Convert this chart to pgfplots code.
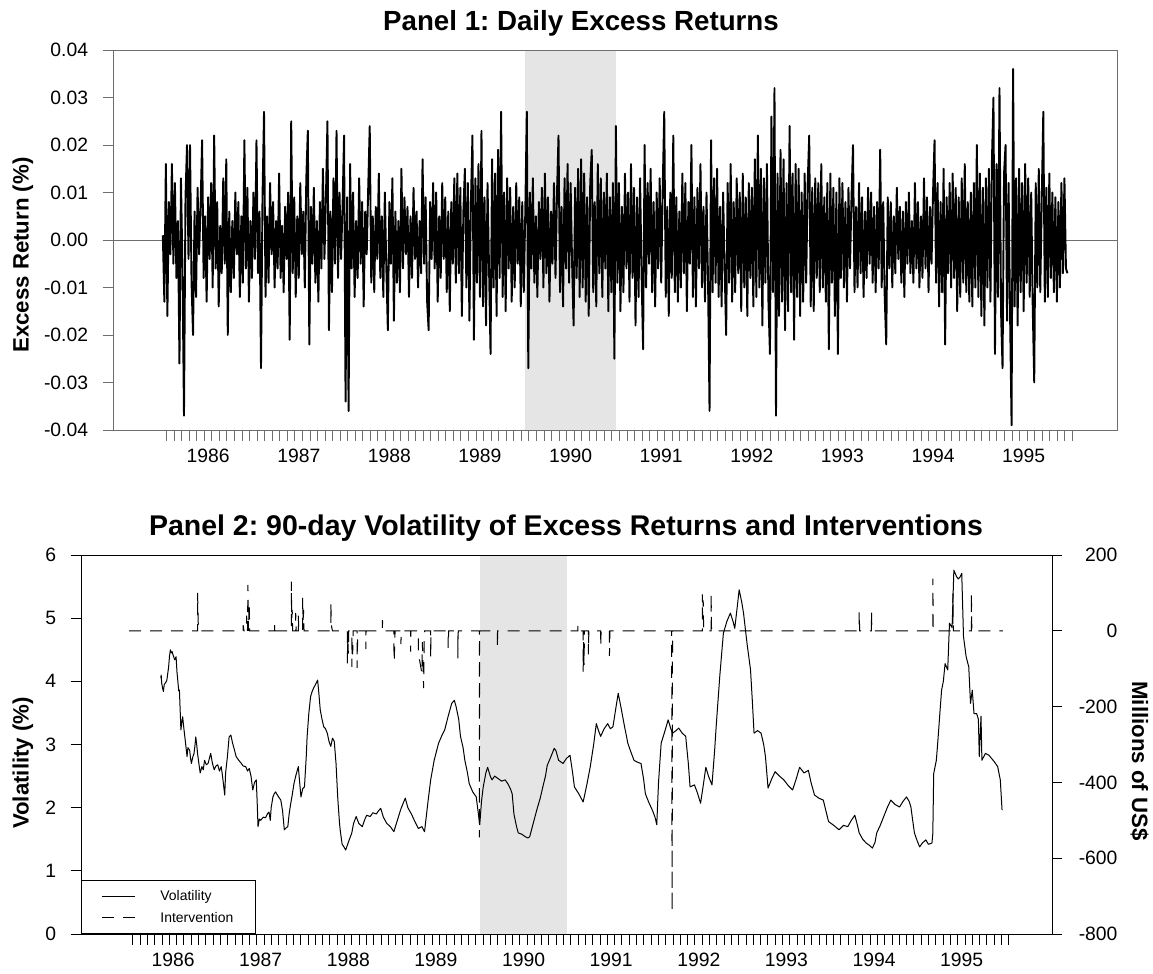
\documentclass[border=0pt]{standalone}
\usepackage{fontspec}
\setmainfont{Liberation Sans}
\usepackage{pgfplots}
\usepackage{pgfplotstable}
\pgfplotsset{compat=1.18}
\definecolor{framegray}{HTML}{6E6E6E}
\definecolor{tickgray}{HTML}{707070}
\definecolor{bandgray}{HTML}{E5E5E5}
\frenchspacing

% daily excess returns, 60 observations per year from 1986.0
\pgfplotstableread[row sep=\\]{
r\\
0.001\\ -0.013\\ 0.016\\ -0.016\\ 0.008\\ -0.003\\ 0.016\\ -0.005\\ 0.012\\ -0.008\\
0.004\\ -0.026\\ 0.013\\ -0.006\\ -0.037\\ 0.009\\ 0.020\\ -0.004\\ 0.020\\ -0.009\\
-0.020\\ 0.006\\ -0.012\\ 0.011\\ -0.003\\ 0.007\\ 0.021\\ -0.008\\ 0.005\\ -0.013\\
0.009\\ -0.004\\ 0.012\\ -0.010\\ 0.022\\ -0.006\\ 0.008\\ -0.014\\ 0.003\\ -0.007\\
0.013\\ -0.005\\ 0.017\\ -0.020\\ 0.006\\ -0.011\\ 0.004\\ -0.008\\ 0.010\\ -0.003\\
0.008\\ -0.012\\ 0.005\\ -0.009\\ 0.021\\ -0.006\\ 0.011\\ -0.013\\ 0.004\\ -0.008\\
0.010\\ -0.004\\ 0.021\\ -0.007\\ 0.006\\ -0.027\\ 0.009\\ 0.027\\ -0.012\\ 0.005\\
-0.009\\ 0.012\\ -0.003\\ 0.008\\ -0.010\\ 0.004\\ -0.006\\ 0.014\\ -0.008\\ 0.003\\
-0.011\\ 0.007\\ -0.004\\ 0.010\\ -0.021\\ 0.025\\ -0.007\\ 0.009\\ -0.012\\ 0.005\\
-0.008\\ 0.012\\ -0.003\\ 0.006\\ -0.010\\ 0.013\\ 0.023\\ -0.022\\ 0.007\\ -0.005\\
0.011\\ -0.009\\ 0.004\\ -0.013\\ 0.008\\ -0.006\\ 0.015\\ -0.004\\ 0.009\\ 0.025\\
-0.019\\ 0.006\\ -0.011\\ 0.013\\ -0.005\\ 0.023\\ -0.008\\ 0.010\\ -0.004\\ 0.007\\
0.022\\ -0.034\\ 0.009\\ -0.036\\ 0.016\\ -0.006\\ 0.010\\ -0.012\\ 0.004\\ -0.008\\
0.013\\ -0.005\\ 0.008\\ -0.014\\ 0.006\\ -0.003\\ 0.011\\ 0.024\\ -0.009\\ 0.005\\
-0.011\\ 0.007\\ -0.004\\ 0.014\\ -0.008\\ 0.005\\ -0.012\\ 0.010\\ -0.006\\ -0.019\\
0.008\\ -0.005\\ 0.013\\ -0.017\\ 0.006\\ -0.009\\ 0.004\\ -0.011\\ 0.015\\ -0.006\\
0.009\\ -0.003\\ 0.007\\ -0.012\\ 0.005\\ -0.008\\ 0.011\\ -0.004\\ 0.006\\ -0.010\\
0.004\\ -0.007\\ 0.017\\ -0.005\\ 0.009\\ -0.013\\ -0.019\\ 0.008\\ -0.004\\ 0.012\\
-0.006\\ 0.010\\ -0.013\\ 0.005\\ -0.008\\ 0.012\\ -0.004\\ 0.009\\ -0.011\\ 0.006\\
-0.015\\ 0.008\\ -0.005\\ 0.013\\ -0.009\\ 0.014\\ -0.007\\ 0.011\\ -0.016\\ 0.006\\
0.015\\ -0.010\\ 0.012\\ -0.017\\ 0.008\\ 0.022\\ -0.021\\ 0.013\\ -0.009\\ 0.016\\
-0.012\\ 0.023\\ -0.014\\ 0.009\\ -0.018\\ 0.012\\ -0.006\\ -0.024\\ 0.017\\ -0.010\\
0.014\\ -0.016\\ 0.019\\ -0.008\\ 0.027\\ -0.012\\ 0.010\\ -0.015\\ 0.013\\ -0.006\\
0.011\\ -0.013\\ 0.007\\ -0.010\\ 0.012\\ -0.005\\ 0.009\\ -0.014\\ 0.008\\ -0.011\\
0.006\\ 0.027\\ -0.027\\ 0.010\\ -0.006\\ 0.013\\ -0.009\\ 0.005\\ -0.012\\ 0.008\\
-0.004\\ 0.011\\ -0.010\\ 0.014\\ -0.007\\ 0.009\\ -0.013\\ 0.006\\ -0.005\\ 0.012\\
-0.008\\ 0.010\\ 0.022\\ -0.011\\ 0.007\\ -0.014\\ 0.013\\ -0.006\\ 0.016\\ -0.009\\
0.012\\ -0.005\\ -0.018\\ 0.011\\ -0.008\\ 0.015\\ -0.012\\ 0.017\\ -0.010\\ 0.014\\
-0.013\\ 0.009\\ -0.016\\ 0.012\\ 0.019\\ -0.011\\ 0.008\\ -0.014\\ 0.016\\ -0.007\\
0.013\\ -0.012\\ 0.010\\ -0.006\\ 0.014\\ -0.015\\ 0.009\\ -0.011\\ 0.012\\ -0.025\\
0.024\\ -0.009\\ 0.012\\ -0.015\\ 0.007\\ -0.011\\ 0.014\\ -0.006\\ 0.010\\ -0.013\\
0.016\\ -0.008\\ 0.011\\ -0.018\\ 0.009\\ -0.012\\ 0.013\\ -0.007\\ -0.023\\ 0.020\\
-0.010\\ 0.012\\ -0.005\\ 0.015\\ -0.011\\ 0.008\\ -0.014\\ 0.010\\ -0.006\\ 0.013\\
-0.009\\ 0.011\\ 0.027\\ -0.012\\ 0.007\\ -0.016\\ 0.010\\ -0.008\\ 0.022\\ -0.011\\
0.009\\ -0.013\\ 0.006\\ -0.010\\ 0.014\\ -0.007\\ 0.012\\ -0.015\\ 0.008\\ -0.005\\
0.020\\ -0.012\\ 0.009\\ -0.014\\ 0.011\\ -0.006\\ 0.016\\ -0.010\\ 0.007\\ -0.013\\
0.010\\ -0.008\\ -0.036\\ 0.021\\ -0.011\\ 0.013\\ -0.009\\ 0.015\\ -0.012\\ 0.007\\
-0.014\\ 0.010\\ -0.006\\ -0.020\\ 0.012\\ -0.009\\ 0.016\\ -0.013\\ 0.008\\ -0.011\\
0.013\\ -0.007\\ 0.010\\ -0.015\\ 0.014\\ -0.010\\ 0.009\\ -0.016\\ 0.012\\ -0.008\\
0.011\\ -0.014\\ 0.017\\ -0.012\\ 0.022\\ -0.010\\ 0.015\\ -0.018\\ 0.013\\ -0.009\\
0.016\\ -0.013\\ -0.024\\ 0.026\\ -0.011\\ 0.032\\ -0.037\\ 0.014\\ -0.016\\ 0.019\\
-0.013\\ 0.017\\ -0.019\\ 0.012\\ -0.015\\ 0.024\\ -0.011\\ 0.014\\ -0.021\\ 0.016\\
-0.012\\ 0.015\\ -0.016\\ 0.010\\ -0.013\\ 0.014\\ -0.009\\ 0.012\\ 0.022\\ -0.014\\
0.011\\ -0.015\\ 0.013\\ -0.008\\ 0.012\\ -0.011\\ 0.016\\ -0.010\\ 0.009\\ -0.013\\
0.012\\ -0.023\\ 0.014\\ -0.009\\ 0.011\\ -0.016\\ 0.010\\ -0.024\\ 0.013\\ -0.008\\
0.012\\ -0.010\\ 0.008\\ -0.013\\ 0.011\\ -0.006\\ 0.009\\ 0.020\\ -0.011\\ 0.007\\
-0.010\\ 0.012\\ -0.007\\ 0.009\\ -0.012\\ 0.006\\ -0.008\\ 0.011\\ -0.005\\ 0.010\\
-0.009\\ 0.007\\ -0.011\\ 0.008\\ -0.006\\ 0.019\\ -0.010\\ 0.008\\ -0.012\\ -0.022\\
0.009\\ -0.006\\ 0.008\\ -0.010\\ 0.005\\ -0.007\\ 0.011\\ -0.004\\ 0.007\\ -0.009\\
0.006\\ -0.012\\ 0.008\\ -0.005\\ 0.010\\ -0.007\\ 0.004\\ -0.009\\ 0.012\\ -0.006\\
0.008\\ -0.010\\ 0.005\\ -0.008\\ 0.013\\ -0.006\\ 0.009\\ -0.011\\ 0.007\\ -0.005\\
0.010\\ 0.021\\ -0.009\\ 0.012\\ -0.014\\ 0.008\\ -0.011\\ 0.015\\ -0.022\\ 0.009\\
-0.007\\ 0.012\\ -0.010\\ 0.014\\ -0.008\\ 0.011\\ -0.015\\ 0.009\\ -0.012\\ 0.013\\
-0.009\\ 0.016\\ -0.011\\ 0.008\\ -0.013\\ 0.010\\ -0.014\\ 0.012\\ -0.010\\ 0.020\\
-0.012\\ 0.014\\ -0.016\\ 0.011\\ -0.018\\ 0.013\\ -0.010\\ 0.015\\ -0.013\\ 0.017\\
0.030\\ -0.024\\ 0.016\\ -0.012\\ 0.032\\ -0.015\\ -0.027\\ 0.014\\ 0.020\\ -0.017\\
0.012\\ -0.016\\ -0.039\\ 0.036\\ -0.014\\ 0.013\\ -0.018\\ 0.015\\ -0.011\\ 0.012\\
-0.015\\ 0.016\\ -0.009\\ 0.013\\ -0.012\\ 0.010\\ -0.014\\ -0.030\\ 0.012\\ -0.010\\
0.015\\ -0.011\\ 0.009\\ 0.027\\ -0.013\\ 0.011\\ -0.012\\ 0.014\\ -0.008\\ 0.010\\
-0.011\\ 0.009\\ -0.013\\ 0.008\\ -0.010\\ 0.012\\ -0.007\\ 0.013\\ -0.006\\ -0.007\\
}\returns

% 90-day volatility (%)
\pgfplotstableread[row sep=\\]{
t v\\
1986.36 4.05\\ 1986.365 4.10\\ 1986.37 3.98\\ 1986.38 3.90\\ 1986.39 3.84\\ 1986.40 3.95\\
1986.42 3.99\\ 1986.43 4.02\\ 1986.45 4.23\\ 1986.46 4.40\\ 1986.47 4.50\\ 1986.48 4.45\\
1986.49 4.47\\ 1986.50 4.42\\ 1986.51 4.38\\ 1986.52 4.34\\ 1986.535 4.39\\ 1986.545 4.15\\
1986.554 4.02\\ 1986.565 3.85\\ 1986.573 3.86\\ 1986.58 3.60\\ 1986.59 3.23\\ 1986.60 3.35\\
1986.61 3.44\\ 1986.62 3.30\\ 1986.63 3.18\\ 1986.645 3.00\\ 1986.66 2.81\\ 1986.67 2.95\\
1986.69 2.91\\ 1986.70 2.78\\ 1986.71 2.70\\ 1986.725 2.80\\ 1986.74 2.86\\ 1986.75 2.98\\
1986.76 3.12\\ 1986.77 3.00\\ 1986.78 2.86\\ 1986.795 2.70\\ 1986.81 2.55\\ 1986.83 2.65\\
1986.845 2.60\\ 1986.86 2.75\\ 1986.88 2.68\\ 1986.90 2.70\\ 1986.915 2.78\\ 1986.93 2.86\\
1986.95 2.70\\ 1986.97 2.60\\ 1986.99 2.66\\ 1987.01 2.68\\ 1987.03 2.58\\ 1987.05 2.65\\
1987.06 2.55\\ 1987.07 2.44\\ 1987.09 2.20\\ 1987.10 2.55\\ 1987.12 2.80\\ 1987.14 3.12\\
1987.16 3.15\\ 1987.18 3.02\\ 1987.20 2.92\\ 1987.22 2.81\\ 1987.25 2.75\\ 1987.28 2.70\\
1987.30 2.66\\ 1987.33 2.65\\ 1987.35 2.58\\ 1987.37 2.62\\ 1987.39 2.50\\ 1987.41 2.28\\
1987.43 2.40\\ 1987.45 2.44\\ 1987.46 2.10\\ 1987.47 1.70\\ 1987.485 1.82\\ 1987.50 1.80\\
1987.53 1.85\\ 1987.555 1.84\\ 1987.58 1.91\\ 1987.595 1.93\\ 1987.61 1.80\\ 1987.62 2.00\\
1987.64 2.17\\ 1987.655 2.22\\ 1987.67 2.25\\ 1987.70 2.18\\ 1987.73 2.12\\ 1987.75 1.95\\
1987.77 1.65\\ 1987.79 1.68\\ 1987.81 1.70\\ 1987.825 1.90\\ 1987.84 2.04\\ 1987.86 2.20\\
1987.88 2.38\\ 1987.90 2.50\\ 1987.93 2.65\\ 1987.945 2.40\\ 1987.96 2.17\\ 1987.98 2.30\\
1988.00 2.33\\ 1988.02 2.80\\ 1988.03 3.12\\ 1988.05 3.50\\ 1988.07 3.76\\ 1988.09 3.85\\
1988.11 3.91\\ 1988.13 3.96\\ 1988.15 4.02\\ 1988.165 3.80\\ 1988.18 3.55\\ 1988.20 3.40\\
1988.22 3.28\\ 1988.24 3.25\\ 1988.26 3.18\\ 1988.28 3.05\\ 1988.30 2.97\\ 1988.32 3.10\\
1988.34 3.05\\ 1988.36 2.70\\ 1988.38 2.15\\ 1988.40 1.75\\ 1988.41 1.62\\ 1988.43 1.42\\
1988.45 1.38\\ 1988.47 1.33\\ 1988.50 1.45\\ 1988.54 1.60\\ 1988.56 1.75\\ 1988.59 1.86\\
1988.62 1.75\\ 1988.66 1.70\\ 1988.69 1.82\\ 1988.71 1.88\\ 1988.75 1.86\\ 1988.78 1.92\\
1988.82 1.90\\ 1988.845 1.95\\ 1988.87 1.99\\ 1988.90 1.85\\ 1988.94 1.75\\ 1988.98 1.70\\
1989.02 1.62\\ 1989.06 1.80\\ 1989.10 1.98\\ 1989.15 2.15\\ 1989.18 2.00\\ 1989.22 1.90\\
1989.26 1.78\\ 1989.30 1.67\\ 1989.34 1.70\\ 1989.37 1.62\\ 1989.41 2.10\\ 1989.44 2.44\\
1989.48 2.75\\ 1989.53 3.02\\ 1989.57 3.15\\ 1989.60 3.23\\ 1989.64 3.45\\ 1989.68 3.65\\
1989.71 3.70\\ 1989.73 3.60\\ 1989.76 3.40\\ 1989.78 3.13\\ 1989.81 2.95\\ 1989.83 2.75\\
1989.86 2.55\\ 1989.88 2.38\\ 1989.92 2.25\\ 1989.96 2.17\\ 1989.98 1.95\\ 1990.00 1.73\\
1990.02 2.10\\ 1990.04 2.33\\ 1990.07 2.55\\ 1990.09 2.64\\ 1990.12 2.50\\ 1990.14 2.44\\
1990.17 2.50\\ 1990.21 2.46\\ 1990.25 2.42\\ 1990.29 2.44\\ 1990.32 2.38\\ 1990.35 2.30\\
1990.37 2.22\\ 1990.39 1.90\\ 1990.42 1.70\\ 1990.44 1.60\\ 1990.48 1.58\\ 1990.52 1.54\\
1990.55 1.52\\ 1990.57 1.54\\ 1990.61 1.75\\ 1990.65 1.96\\ 1990.69 2.15\\ 1990.72 2.33\\
1990.75 2.50\\ 1990.77 2.67\\ 1990.81 2.80\\ 1990.85 2.94\\ 1990.87 2.90\\ 1990.90 2.75\\
1990.93 2.72\\ 1990.95 2.70\\ 1990.99 2.78\\ 1991.03 2.83\\ 1991.06 2.55\\ 1991.08 2.33\\
1991.13 2.22\\ 1991.18 2.09\\ 1991.22 2.35\\ 1991.26 2.64\\ 1991.30 3.00\\ 1991.33 3.33\\
1991.36 3.20\\ 1991.38 3.13\\ 1991.42 3.25\\ 1991.46 3.33\\ 1991.49 3.25\\ 1991.52 3.28\\
1991.55 3.55\\ 1991.58 3.81\\ 1991.61 3.60\\ 1991.65 3.30\\ 1991.69 3.02\\ 1991.72 2.90\\
1991.76 2.75\\ 1991.80 2.72\\ 1991.84 2.70\\ 1991.87 2.45\\ 1991.89 2.22\\ 1991.93 2.08\\
1991.97 1.96\\ 1992.00 1.85\\ 1992.02 1.73\\ 1992.04 2.40\\ 1992.07 3.02\\ 1992.11 3.20\\
1992.15 3.39\\ 1992.18 3.25\\ 1992.20 3.18\\ 1992.24 3.22\\ 1992.27 3.26\\ 1992.31 3.18\\
1992.35 3.13\\ 1992.38 2.70\\ 1992.40 2.33\\ 1992.45 2.36\\ 1992.48 2.25\\ 1992.52 2.07\\
1992.55 2.35\\ 1992.58 2.64\\ 1992.61 2.50\\ 1992.65 2.36\\ 1992.68 2.90\\ 1992.70 3.33\\
1992.74 4.10\\ 1992.78 4.76\\ 1992.82 4.95\\ 1992.86 5.08\\ 1992.89 4.95\\ 1992.91 4.84\\
1992.94 5.20\\ 1992.96 5.45\\ 1992.99 5.25\\ 1993.01 5.08\\ 1993.05 4.60\\ 1993.09 4.18\\
1993.11 3.70\\ 1993.13 3.18\\ 1993.17 3.22\\ 1993.21 3.18\\ 1993.24 3.00\\ 1993.26 2.81\\
1993.29 2.31\\ 1993.33 2.45\\ 1993.37 2.57\\ 1993.42 2.50\\ 1993.47 2.44\\ 1993.52 2.35\\
1993.57 2.28\\ 1993.61 2.45\\ 1993.65 2.64\\ 1993.70 2.55\\ 1993.75 2.59\\ 1993.78 2.40\\
1993.82 2.20\\ 1993.87 2.15\\ 1993.92 2.12\\ 1993.95 1.95\\ 1993.98 1.78\\ 1994.04 1.72\\
1994.10 1.65\\ 1994.15 1.72\\ 1994.20 1.70\\ 1994.24 1.80\\ 1994.28 1.88\\ 1994.31 1.72\\
1994.33 1.60\\ 1994.37 1.50\\ 1994.41 1.44\\ 1994.45 1.40\\ 1994.48 1.36\\ 1994.51 1.45\\
1994.53 1.60\\ 1994.57 1.72\\ 1994.61 1.86\\ 1994.65 2.00\\ 1994.69 2.12\\ 1994.74 2.05\\
1994.79 2.01\\ 1994.83 2.10\\ 1994.87 2.17\\ 1994.90 2.10\\ 1994.92 2.01\\ 1994.94 1.80\\
1994.96 1.60\\ 1994.99 1.48\\ 1995.02 1.38\\ 1995.05 1.44\\ 1995.09 1.49\\ 1995.12 1.42\\
1995.16 1.44\\ 1995.17 1.59\\ 1995.18 2.54\\ 1995.21 2.75\\ 1995.23 3.10\\ 1995.25 3.49\\
1995.27 3.86\\ 1995.29 4.00\\ 1995.31 4.28\\ 1995.34 4.18\\ 1995.36 4.92\\ 1995.39 4.85\\
1995.41 5.76\\ 1995.44 5.66\\ 1995.46 5.62\\ 1995.48 5.65\\ 1995.50 5.71\\ 1995.52 4.71\\
1995.55 4.39\\ 1995.58 4.23\\ 1995.60 3.65\\ 1995.62 3.86\\ 1995.64 3.49\\ 1995.67 3.49\\
1995.69 3.40\\ 1995.70 2.81\\ 1995.72 3.45\\ 1995.73 2.75\\ 1995.77 2.86\\ 1995.81 2.83\\
1995.84 2.78\\ 1995.87 2.73\\ 1995.91 2.65\\ 1995.94 2.44\\ 1995.96 1.96\\
}\vol

% interventions (millions of US$)
\pgfplotstableread[row sep=\\]{
t m\\
1986.00 0\\ 1986.78 0\\ 1986.78 100\\ 1986.79 0\\ 1987.30 0\\ 1987.30 15\\ 1987.31 0\\
1987.34 0\\ 1987.34 40\\ 1987.35 0\\ 1987.355 121\\ 1987.36 0\\ 1987.37 73\\ 1987.375 0\\
1987.66 0\\ 1987.66 20\\ 1987.67 0\\ 1987.85 0\\ 1987.85 130\\ 1987.855 30\\ 1987.86 55\\
1987.865 0\\ 1987.90 0\\ 1987.90 47\\ 1987.905 0\\ 1987.93 0\\ 1987.93 40\\ 1987.935 0\\
1987.98 0\\ 1987.98 87\\ 1987.985 20\\ 1987.99 55\\ 1987.995 0\\ 1988.30 0\\ 1988.30 73\\
1988.31 10\\ 1988.32 0\\ 1988.49 0\\ 1988.49 -86\\ 1988.495 -20\\ 1988.50 -60\\ 1988.505 0\\
1988.54 0\\ 1988.54 -95\\ 1988.545 -30\\ 1988.55 -62\\ 1988.555 0\\ 1988.60 0\\ 1988.60 -98\\
1988.605 -40\\ 1988.61 0\\ 1988.70 0\\ 1988.70 -48\\ 1988.705 0\\ 1988.89 0\\ 1988.89 28\\
1988.895 0\\ 1989.02 0\\ 1989.02 -42\\ 1989.025 -81\\ 1989.03 -20\\ 1989.035 0\\ 1989.10 0\\
1989.10 -35\\ 1989.105 0\\ 1989.21 0\\ 1989.21 -55\\ 1989.215 0\\ 1989.30 0\\ 1989.30 -60\\
1989.34 -112\\ 1989.345 -30\\ 1989.36 -151\\ 1989.365 -40\\ 1989.37 0\\ 1989.44 0\\
1989.44 -70\\ 1989.445 0\\ 1989.64 0\\ 1989.64 -45\\ 1989.645 0\\ 1989.75 0\\ 1989.75 -73\\
1989.755 0\\ 1989.995 0\\ 1989.995 -545\\ 1990.0 0\\ 1990.20 0\\ 1990.20 -45\\ 1990.205 0\\
1991.12 0\\ 1991.12 15\\ 1991.125 0\\ 1991.18 0\\ 1991.18 -108\\ 1991.185 -30\\ 1991.19 -90\\
1991.195 0\\ 1991.24 0\\ 1991.24 -62\\ 1991.245 0\\ 1991.38 0\\ 1991.38 -40\\ 1991.385 0\\
1991.48 0\\ 1991.48 -66\\ 1991.485 0\\ 1992.19 0\\ 1992.195 -740\\ 1992.20 0\\ 1992.54 0\\
1992.54 96\\ 1992.545 30\\ 1992.55 80\\ 1992.555 0\\ 1992.64 0\\ 1992.64 99\\ 1992.645 0\\
1994.33 0\\ 1994.33 50\\ 1994.335 0\\ 1994.47 0\\ 1994.47 50\\ 1994.475 0\\ 1995.17 0\\
1995.17 138\\ 1995.175 0\\ 1995.40 0\\ 1995.40 99\\ 1995.405 0\\ 1995.61 0\\ 1995.61 99\\
1995.615 0\\ 1995.97 0\\
}\interv

\pgfplotsset{
  every tick label/.append style={font=\fontsize{19.4}{21}\selectfont},
  monthticks/.style={
    xmin=1985.45, xmax=1996.53,
    xtick={1986.04167,1986.125,...,1996}, xticklabels={},
    extra x ticks={1986.5,1987.5,1988.5,1989.5,1990.5,1991.5,1992.5,1993.5,1994.5,1995.5},
    extra x tick labels={1986,1987,1988,1989,1990,1991,1992,1993,1994,1995},
    extra x tick style={major tick length=0bp, tick style={draw=none},
      xticklabel style={yshift=-15.5bp}},
    tick align=outside, major tick length=10.5bp,
    xtick pos=bottom, ytick pos=left,
    scaled ticks=false,
  },
}

\begin{document}
\begin{tikzpicture}
\useasboundingbox (0bp,0bp) rectangle (1153bp,-974bp);

% ---------------- Panel 1 ----------------
\begin{axis}[
  at={(113bp,-430bp)}, anchor=south west,
  width=1004bp, height=380bp, scale only axis,
  monthticks,
  ymin=-0.04, ymax=0.04,
  ytick={-0.04,-0.03,-0.02,-0.01,0,0.01,0.02,0.03,0.04},
  yticklabels={-0.04,-0.03,-0.02,-0.01,0.00,0.01,0.02,0.03,0.04},
  yticklabel style={xshift=-11bp},
  axis line style={framegray, line width=1bp},
  tick style={framegray, line width=1bp},
  axis on top,
]
\addplot[fill=bandgray, draw=none] coordinates {(1990,-0.04) (1991,-0.04) (1991,0.04) (1990,0.04)} -- cycle;
\addplot[framegray, line width=1bp] coordinates {(1985.45,0) (1996.53,0)};
\addplot[black, line width=1.9bp, line join=round] table[x expr=1986+\coordindex/60, y index=0] {\returns};
\end{axis}

% ---------------- Panel 2: volatility ----------------
\begin{axis}[
  at={(81bp,-934bp)}, anchor=south west,
  width=971bp, height=379bp, scale only axis,
  monthticks,
  ymin=0, ymax=6, ytick={0,1,2,3,4,5,6},
  yticklabels={0,1,2,3,4,5,6},
  yticklabel style={xshift=-11bp},
  axis line style={black, line width=1bp},
  tick style={black, line width=1bp},
  axis on top,
]
\addplot[fill=bandgray, draw=none] coordinates {(1990,0) (1991,0) (1991,6) (1990,6)} -- cycle;
\addplot[black, line width=1bp, line join=round] table[x=t, y=v] {\vol};
\end{axis}

% ---------------- Panel 2: interventions (right axis) ----------------
\begin{axis}[
  at={(81bp,-934bp)}, anchor=south west,
  width=971bp, height=379bp, scale only axis,
  xmin=1985.45, xmax=1996.53,
  ymin=-800, ymax=200, ytick={-800,-600,-400,-200,0,200},
  yticklabels={-800,-600,-400,-200,0,200},
  scaled ticks=false,
  axis x line=none, axis y line*=right,
  tick align=outside, major tick length=10.5bp,
  axis line style={black, line width=1bp},
  tick style={black, line width=1bp},
  yticklabel style={text width=46.5bp, align=right, xshift=5bp},
  legend style={at={(0,0)}, anchor=south west, draw=black, line width=0.9bp,
    fill=white, font=\fontsize{14}{14}\selectfont,
    inner xsep=20bp, inner ysep=8bp, row sep=6bp,
    /tikz/every odd column/.append style={column sep=23bp}},
  legend cell align=left,
  legend image code/.code={\draw[#1] (0bp,0bp) -- (33bp,0bp);},
]
\addlegendimage{black, solid, line width=0.9bp}
\addlegendentry{Volatility}
\addplot[black, line width=1bp, dash pattern=on 12bp off 9bp] table[x=t, y=m] {\interv};
\addlegendentry{Intervention}
\end{axis}

% ---------------- titles and axis labels ----------------
\node[anchor=base, font=\bfseries\fontsize{27.8}{30}\selectfont] at (581bp,-30.5bp) {Panel 1: Daily Excess Returns};
\node[anchor=base, font=\bfseries\fontsize{28.6}{30}\selectfont] at (566bp,-535bp) {Panel 2: 90-day Volatility of Excess Returns and Interventions};
\node[rotate=90, anchor=base, font=\bfseries\fontsize{22.3}{24}\selectfont] at (28.5bp,-255bp) {Excess Return (\%)};
\node[rotate=90, anchor=base, font=\bfseries\fontsize{22.3}{24}\selectfont] at (28.5bp,-763bp) {Volatility (\%)};
\node[rotate=-90, anchor=base, font=\bfseries\fontsize{22.3}{24}\selectfont] at (1132bp,-761bp) {Millions of US\$};
\end{tikzpicture}
\end{document}
